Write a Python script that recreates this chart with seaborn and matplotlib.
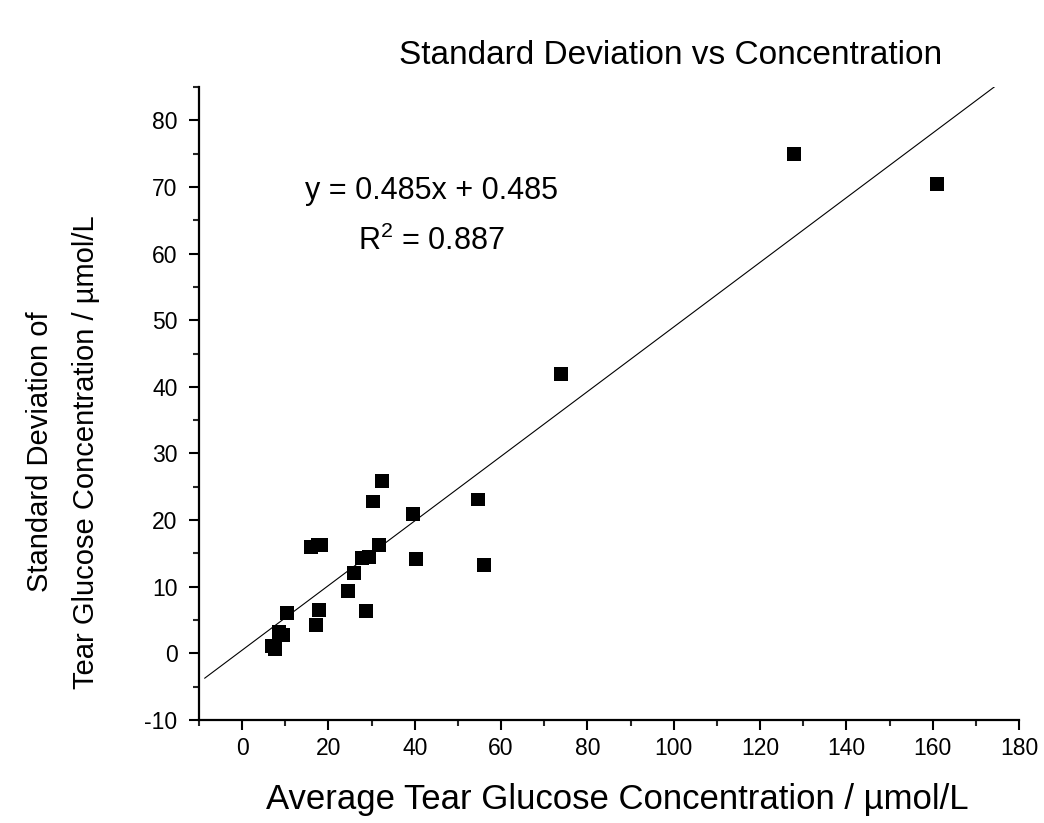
import numpy as np
import pandas as pd
import matplotlib
matplotlib.use("Agg")
import matplotlib.pyplot as plt
import seaborn as sns
from matplotlib.ticker import MultipleLocator

# Average tear glucose concentration (µmol/L) per subject
avg_conc = [6.8, 7.7, 8.6, 9.4, 10.3, 17.2, 17.9, 28.6, 24.6, 26.0, 27.8, 29.4,
            31.8, 15.9, 17.5, 18.2, 30.4, 32.4, 39.5, 40.3, 54.7, 56.1, 73.9,
            127.8, 160.9]
# Standard deviation of tear glucose concentration (µmol/L)
sd_conc = [1.1, 0.6, 3.2, 2.8, 6.1, 4.2, 6.5, 6.3, 9.3, 12.1, 14.3, 14.4,
           16.3, 16.0, 16.3, 16.2, 22.8, 25.9, 20.9, 14.2, 23.1, 13.3, 41.9,
           75.0, 70.4]

# Linear fit reported on the chart
fit_slope = 0.485
fit_intercept = 0.485
fit_r2 = 0.887
fit_x_range = [-8.7, 180.0]

x_ticks = [0, 20, 40, 60, 80, 100, 120, 140, 160, 180]
y_ticks = [-10, 0, 10, 20, 30, 40, 50, 60, 70, 80]

sns.set_theme(style="ticks")
plt.rcParams["font.family"] = ["Liberation Sans", "DejaVu Sans"]
plt.rcParams["mathtext.fontset"] = "custom"
plt.rcParams["mathtext.rm"] = "Liberation Sans"
plt.rcParams["mathtext.it"] = "Liberation Sans:italic"
plt.rcParams["axes.unicode_minus"] = False
plt.rcParams["text.color"] = "black"

df = pd.DataFrame({"avg": avg_conc, "sd": sd_conc})
fit_x = np.linspace(fit_x_range[0], fit_x_range[1], 50)
fit_df = pd.DataFrame({"x": fit_x, "y": fit_slope * fit_x + fit_intercept})

fig = plt.figure(figsize=(10.44, 8.23), dpi=100)
ax = fig.add_axes([199 / 1044, 1 - 720 / 823, (1019 - 199) / 1044, (720 - 87) / 823])

sns.lineplot(data=fit_df, x="x", y="y", ax=ax, color="black", linewidth=0.8)
sns.scatterplot(data=df, x="avg", y="sd", ax=ax, marker="s", s=100,
                color="black", edgecolor="none", zorder=3)

ax.set_xlim(-10, 180)
ax.set_ylim(-10, 85)
ax.set_xticks(x_ticks)
ax.set_yticks(y_ticks)
ax.xaxis.set_minor_locator(MultipleLocator(10))
ax.yaxis.set_minor_locator(MultipleLocator(5))
ax.tick_params(which="major", direction="out", length=7, width=1.5,
               labelsize=16.5, colors="black", pad=5)
ax.tick_params(axis="y", which="major", pad=8.5)
ax.tick_params(which="minor", direction="out", length=4, width=1.5)
sns.despine(ax=ax)
for side in ("left", "bottom"):
    ax.spines[side].set_linewidth(1.6)
    ax.spines[side].set_color("black")
ax.set_xlabel("")
ax.set_ylabel("")

ax.text(0.284, 0.836, f"y = {fit_slope}x + {fit_intercept}",
        transform=ax.transAxes, ha="center", va="center", fontsize=22)
ax.text(0.283, 0.756, r"R$^{\mathrm{2}}$" + f" = {fit_r2}",
        transform=ax.transAxes, ha="center", va="center", fontsize=22)

fig.text(671 / 1044, 1 - 55 / 823, "Standard Deviation vs Concentration",
         ha="center", va="center", fontsize=24)
fig.text(617 / 1044, 1 - 800 / 823, "Average Tear Glucose Concentration / µmol/L",
         ha="center", va="center", fontsize=25)
fig.text(40 / 1044, 1 - 452 / 823, "Standard Deviation of",
         ha="center", va="center", rotation=90, fontsize=21)
fig.text(86 / 1044, 1 - 452 / 823, "Tear Glucose Concentration / µmol/L",
         ha="center", va="center", rotation=90, fontsize=21)

fig.savefig("out.png", dpi=100, facecolor="white")
